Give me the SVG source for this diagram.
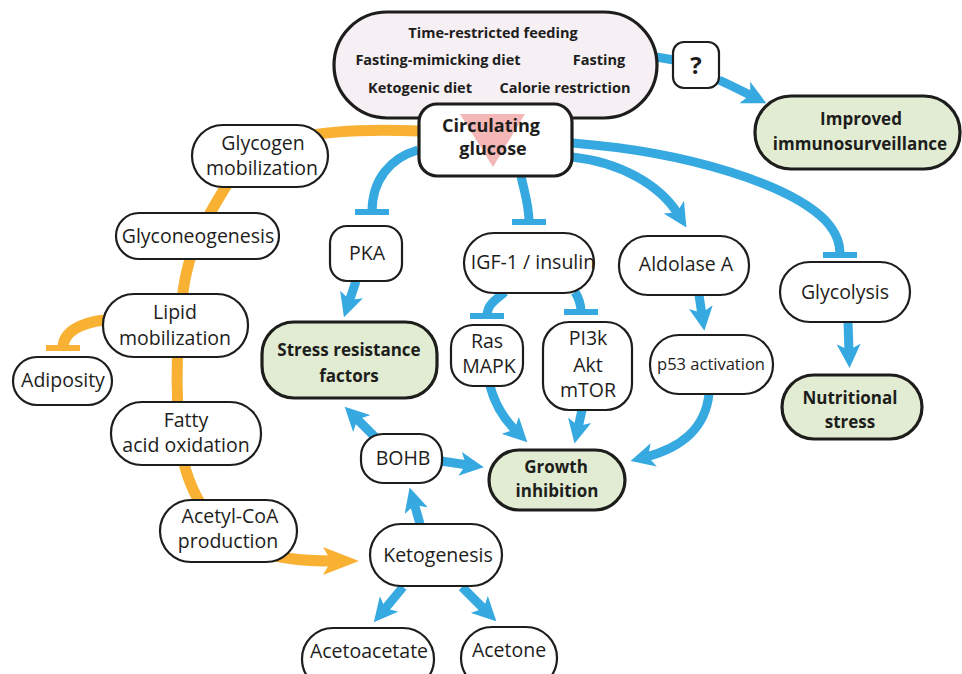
<svg xmlns="http://www.w3.org/2000/svg" width="962" height="674" viewBox="0 0 962 674">
<defs>
<style>
.n{fill:#fff;stroke:#1d1d1b;stroke-width:2.2}
.g{fill:#e1ecd3;stroke:#1d1d1b;stroke-width:3.2}
.t{font-family:"Open Sans","DejaVu Sans",sans-serif;font-size:19.5px;fill:#1d1d1b;text-anchor:middle}
.b{font-family:"Open Sans","DejaVu Sans",sans-serif;font-weight:700;font-size:17px;fill:#1d1d1b;text-anchor:middle}
.bl{fill:none;stroke:#36a9e1;stroke-width:9}
.or{fill:none;stroke:#f8b133;stroke-width:11}
</style>
<marker id="ab" markerUnits="userSpaceOnUse" markerWidth="24" markerHeight="24" viewBox="0 0 24 24" refX="8" refY="12" orient="auto">
<path d="M0,0 L24,12 L0,24 L6,12 z" fill="#36a9e1"/>
</marker>
<marker id="tb" markerUnits="userSpaceOnUse" markerWidth="6" markerHeight="34" viewBox="0 0 6 34" refX="3" refY="17" orient="auto">
<rect x="0" y="0" width="6" height="34" fill="#36a9e1"/>
</marker>
<marker id="ao" markerUnits="userSpaceOnUse" markerWidth="36" markerHeight="28" viewBox="0 0 36 28" refX="10" refY="14" orient="auto">
<path d="M0,0 L36,14 L0,28 L8,14 z" fill="#f8b133"/>
</marker>
<marker id="to" markerUnits="userSpaceOnUse" markerWidth="6" markerHeight="34" viewBox="0 0 6 34" refX="3" refY="17" orient="auto">
<rect x="0" y="0" width="6" height="34" fill="#f8b133"/>
</marker>
</defs>
<rect width="962" height="674" fill="#fff"/>

<g id="connectors">
<path class="or" d="M420,131 C330,127 250,135 228,183 C205,220 187,250 182,300 C176,350 176,400 180,440 C184,480 200,510 225,535 C250,555 290,561 333,561" marker-end="url(#ao)"/>
<path class="or" d="M104,320 C80,323 63,332 63,348" marker-end="url(#to)"/>
<path class="bl" d="M656,57 C662,58 668,59 674,60"/>
<path class="bl" d="M719,80 C730,85 740,90 752,96" marker-end="url(#ab)"/>
<path class="bl" d="M418,150 C390,158 372,180 372,212" marker-end="url(#tb)"/>
<path class="bl" d="M356,281 L349,302" marker-end="url(#ab)"/>
<path class="bl" d="M521,176 C525,195 529,205 529,222" marker-end="url(#tb)"/>
<path class="bl" d="M505,292 C495,300 487,305 487,316" marker-end="url(#tb)"/>
<path class="bl" d="M575,292 C580,300 581,305 581,312" marker-end="url(#tb)"/>
<path class="bl" d="M572,157 C620,162 660,185 678,214" marker-end="url(#ab)"/>
<path class="bl" d="M572,143 C690,152 790,185 825,220 C838,234 840,245 840,255" marker-end="url(#tb)"/>
<path class="bl" d="M699,295 L702,315" marker-end="url(#ab)"/>
<path class="bl" d="M848,322 L849,352" marker-end="url(#ab)"/>
<path class="bl" d="M490,386 C495,405 505,420 516,431" marker-end="url(#ab)"/>
<path class="bl" d="M582,410 L578,428" marker-end="url(#ab)"/>
<path class="bl" d="M709,394 C705,430 680,448 646,457" marker-end="url(#ab)"/>
<path class="bl" d="M441,461 L468,465" marker-end="url(#ab)"/>
<path class="bl" d="M375,437 L356,418" marker-end="url(#ab)"/>
<path class="bl" d="M420,524 L414,503" marker-end="url(#ab)"/>
<path class="bl" d="M403,587 L384,610" marker-end="url(#ab)"/>
<path class="bl" d="M462,587 L485,610" marker-end="url(#ab)"/>
</g>

<g id="diets">
<rect x="334" y="12" width="323" height="106" rx="53" fill="#f6eff4" stroke="#1d1d1b" stroke-width="3.2"/>
<text class="b" style="font-size:14.5px" x="493" y="38">Time-restricted feeding</text>
<text class="b" style="font-size:14.5px" x="438" y="65">Fasting-mimicking diet</text>
<text class="b" style="font-size:14.5px" x="599" y="65">Fasting</text>
<text class="b" style="font-size:14.5px" x="420" y="93">Ketogenic diet</text>
<text class="b" style="font-size:14.5px" x="565" y="93">Calorie restriction</text>
</g>
<g id="glucose">
<rect x="419" y="104" width="153" height="72" rx="18" fill="#fff" stroke="#1d1d1b" stroke-width="3.2"/>
<polygon points="460,114 525,114 493,167" fill="#f4b6b6"/>
<text class="b" style="font-size:18px" x="491" y="132">Circulating</text>
<text class="b" style="font-size:18px" x="493" y="155">glucose</text>
</g>
<g id="question">
<rect x="673" y="42" width="46" height="46" rx="11" class="n" stroke-width="2.5"/>
<text class="b" style="font-size:24px" x="696" y="74">?</text>
</g>
<g id="immuno">
<rect x="755" y="96" width="205" height="73" rx="36" class="g"/>
<text class="b" x="861" y="125">Improved</text>
<text class="b" x="860" y="150">immunosurveillance</text>
</g>
<g id="glycogen">
<rect x="192" y="125" width="136" height="62" rx="31" class="n"/>
<text class="t" x="263" y="150">Glycogen</text>
<text class="t" x="262" y="175">mobilization</text>
</g>
<g id="glyconeogenesis">
<rect x="116" y="213" width="163" height="46" rx="23" class="n"/>
<text class="t" x="198" y="243">Glyconeogenesis</text>
</g>
<g id="lipid">
<rect x="103" y="294" width="145" height="63" rx="31" class="n"/>
<text class="t" x="175" y="319">Lipid</text>
<text class="t" x="175" y="345">mobilization</text>
</g>
<g id="adiposity">
<rect x="13" y="357" width="99" height="48" rx="24" class="n"/>
<text class="t" x="63" y="387">Adiposity</text>
</g>
<g id="fatty">
<rect x="111" y="402" width="150" height="63" rx="31" class="n"/>
<text class="t" x="186" y="427">Fatty</text>
<text class="t" x="186" y="452">acid oxidation</text>
</g>
<g id="acetylcoa">
<rect x="160" y="500" width="137" height="62" rx="31" class="n"/>
<text class="t" x="230" y="523">Acetyl-CoA</text>
<text class="t" x="228" y="548">production</text>
</g>
<g id="ketogenesis">
<rect x="370" y="524" width="132" height="62" rx="31" class="n"/>
<text class="t" x="438" y="562">Ketogenesis</text>
</g>
<g id="acetoacetate">
<rect x="302" y="628" width="132" height="62" rx="31" class="n"/>
<text class="t" x="369" y="658">Acetoacetate</text>
</g>
<g id="acetone">
<rect x="461" y="627" width="96" height="62" rx="31" class="n"/>
<text class="t" x="509" y="657">Acetone</text>
</g>
<g id="bohb">
<rect x="361" y="434" width="81" height="49" rx="22" class="n"/>
<text class="t" x="403" y="465">BOHB</text>
</g>
<g id="growth">
<rect x="489" y="450" width="136" height="60" rx="30" class="g"/>
<text class="b" x="556" y="473">Growth</text>
<text class="b" x="557" y="497">inhibition</text>
</g>
<g id="stress">
<rect x="262" y="322" width="175" height="76" rx="32" class="g"/>
<text class="b" x="349" y="356">Stress resistance</text>
<text class="b" x="349" y="382">factors</text>
</g>
<g id="pka">
<rect x="330" y="226" width="72" height="55" rx="17" class="n"/>
<text class="t" x="367" y="260">PKA</text>
</g>
<g id="igf">
<rect x="464" y="233" width="130" height="60" rx="30" class="n"/>
<text class="t" x="533" y="269">IGF-1 / insulin</text>
</g>
<g id="ras">
<rect x="451" y="325" width="72" height="61" rx="22" class="n"/>
<text class="t" x="487" y="348">Ras</text>
<text class="t" x="489" y="373">MAPK</text>
</g>
<g id="pi3k">
<rect x="543" y="322" width="89" height="88" rx="26" class="n"/>
<text class="t" x="588" y="345">PI3k</text>
<text class="t" x="588" y="372">Akt</text>
<text class="t" x="588" y="397">mTOR</text>
</g>
<g id="aldolase">
<rect x="619" y="236" width="130" height="59" rx="29" class="n"/>
<text class="t" x="686" y="271">Aldolase A</text>
</g>
<g id="p53">
<rect x="650" y="335" width="123" height="59" rx="29" class="n"/>
<text class="t" style="font-size:16.5px" x="711" y="370">p53 activation</text>
</g>
<g id="glycolysis">
<rect x="780" y="262" width="130" height="60" rx="30" class="n"/>
<text class="t" x="845" y="299">Glycolysis</text>
</g>
<g id="nutritional">
<rect x="782" y="375" width="140" height="64" rx="32" class="g"/>
<text class="b" x="850" y="404">Nutritional</text>
<text class="b" x="850" y="428">stress</text>
</g>
</svg>
